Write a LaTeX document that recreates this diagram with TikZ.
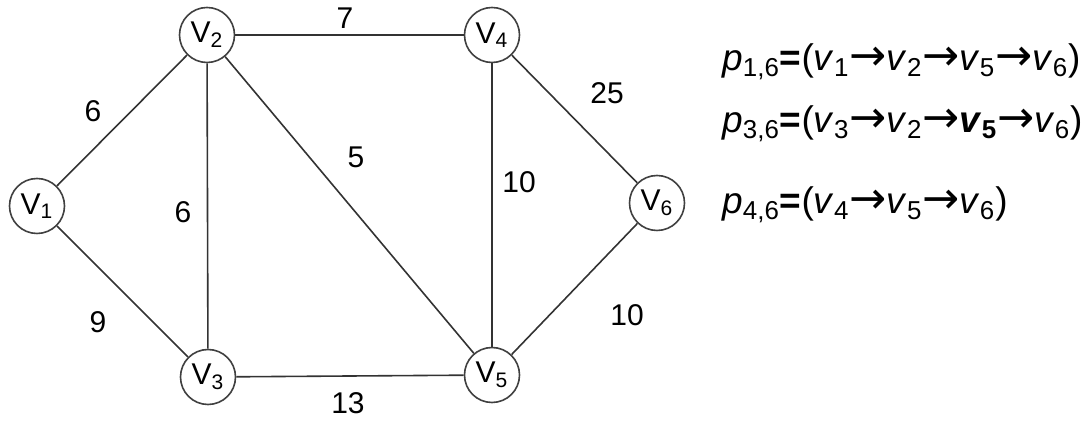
\documentclass[tikz,border=0pt]{standalone}
\usepackage{fontspec}
\setmainfont{Liberation Sans}
\newfontfamily\arwfont{DejaVu Sans}[Scale=1.2]
\newcommand{\arw}{{\arwfont →}}
\usetikzlibrary{positioning}

\begin{document}
\begin{tikzpicture}[x=0.5pt,y=-0.5pt,
  vtx/.style={draw=black!75, circle, line width=0.8pt, minimum size=27.5pt, inner sep=0pt, font=\fontsize{15}{17}\selectfont},
  wgt/.style={font=\fontsize{15}{17}\selectfont, inner sep=1pt},
  path/.style={font=\fontsize{18.5}{22}\selectfont, anchor=west, inner sep=0pt},
  edge/.style={draw=black!80, line width=0.8pt}
]
\useasboundingbox (0,0) rectangle (1092,421);
\node[vtx] (v1) at (37,206) {V\textsubscript{1}};
\node[vtx] (v2) at (207,35) {V\textsubscript{2}};
\node[vtx] (v3) at (208,377) {V\textsubscript{3}};
\node[vtx] (v4) at (492,35) {V\textsubscript{4}};
\node[vtx] (v5) at (492,375) {V\textsubscript{5}};
\node[vtx] (v6) at (657,203) {V\textsubscript{6}};

\path[edge] (v1) -- (v2);
\path[edge] (v1) -- (v3);
\path[edge] (v2) -- (v3);
\path[edge] (v2) -- (v4);
\path[edge] (v2) -- (v5);
\path[edge] (v3) -- (v5);
\path[edge] (v4) -- (v5);
\path[edge] (v4) -- (v6);
\path[edge] (v5) -- (v6);

\node[wgt] (w12) at (93,111) {6};
\node[wgt] (w13) at (98,322) {9};
\node[wgt] (w23) at (183,212) {6};
\node[wgt] (w24) at (345,18) {7};
\node[wgt] (w25) at (356,157) {5};
\node[wgt] (w35) at (348,403) {13};
\node[wgt] (w45) at (519,182) {10};
\node[wgt] (w46) at (607,93) {25};
\node[wgt] (w56) at (627,315) {10};

\node[path] (p16) at (722,62) {\textit{p}\textsubscript{1,6}\textbf{=}(\textit{v}\textsubscript{1}\arw\textit{v}\textsubscript{2}\arw\textit{v}\textsubscript{5}\arw\textit{v}\textsubscript{6})};
\node[path] (p36) at (722,124) {\textit{p}\textsubscript{3,6}\textbf{=}(\textit{v}\textsubscript{3}\arw\textit{v}\textsubscript{2}\arw\textbf{\textit{v}\textsubscript{5}}\arw\textit{v}\textsubscript{6})};
\node[path] (p46) at (722,205) {\textit{p}\textsubscript{4,6}\textbf{=}(\textit{v}\textsubscript{4}\arw\textit{v}\textsubscript{5}\arw\textit{v}\textsubscript{6})};
\end{tikzpicture}
\end{document}
